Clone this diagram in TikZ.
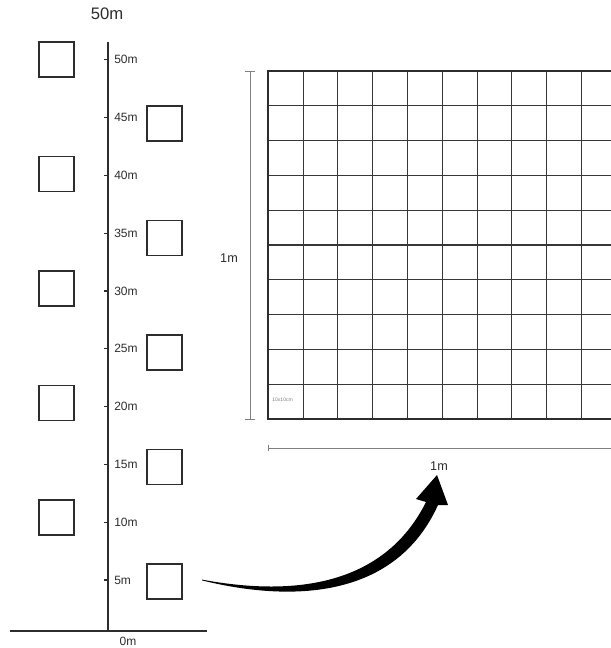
\documentclass[tikz,border=0pt]{standalone}
\usepackage{fontspec}
\setmainfont{Liberation Sans}
\usetikzlibrary{positioning}
\usetikzlibrary{calc}
\definecolor{inkgray}{RGB}{45,45,45}
\definecolor{gridgray}{RGB}{55,55,55}
\tikzset{
  plotsq/.style={draw=inkgray, line width=0.9pt, minimum size=26.25pt, inner sep=0pt},
  ticklbl/.style={anchor=west, inner sep=0.75pt, text=inkgray, font=\fontsize{9}{10}\selectfont},
  dimlbl/.style={inner sep=0.75pt, text=inkgray, font=\fontsize{9.5}{11}\selectfont},
  axisline/.style={draw=inkgray, line width=1pt},
  gridline/.style={draw=gridgray, line width=0.85pt},
  dimline/.style={draw=gray, line width=0.7pt}
}

\begin{document}
\begin{tikzpicture}[x=0.75pt,y=0.75pt,yscale=-1,xscale=1]
  \useasboundingbox (0,0) rectangle (610,648); %keep page at 610 x 648
  % Title
  \node (title) [inner sep=0.75pt, text=inkgray, font=\fontsize{12.5}{14}\selectfont] at (107,14) {50m};

  %Straight Lines: axis and ground
  \coordinate (axtop) at (108,42);
  \coordinate (axbot) at (108,631);
  \coordinate (gndL) at (10,631);
  \coordinate (gndR) at (207,631);
  \draw [axisline] (axtop) -- (axbot);
  \draw [axisline] (gndL) -- (gndR);
  \node (lbl0) [dimlbl, font=\fontsize{9}{10}\selectfont] at (128,641) {0m};

  % ticks and labels every 5m
  \foreach \i in {1,...,10}{
    \pgfmathsetmacro{\ty}{580-57.8*(\i-1)}
    \pgfmathtruncatemacro{\m}{5*\i}
    \coordinate (tk\m) at (108,\ty);
    \draw [axisline, line width=0.8pt] ($(tk\m)+(-4,0)$) -- (tk\m);
    \node (lbl\m) [ticklbl] at ($(tk\m)+(5,0)$) {\m m};
  }

  % sample plots, left of axis
  \foreach \j in {0,...,4}{
    \node (sqL\j) [plotsq] at (56.5,{59.5+114.5*\j}) {};
  }
  % sample plots, right of axis
  \foreach \j in {0,...,4}{
    \node (sqR\j) [plotsq] at (164.5,{123.5+114.5*\j}) {};
  }

  % 1m x 1m quadrat, 10 x 10 cells
  \coordinate (gNW) at (268.3,71);
  \foreach \k in {1,...,9}{
    \draw [gridline] ($(gNW)+({34.8*\k},0)$) -- ++(0,348);
    \draw [gridline] ($(gNW)+(0,{34.8*\k})$) -- ++(348,0);
  }
  % slightly heavier lines
  \draw [gridline, line width=1.3pt] ($(gNW)+({34.8*4},0)$) -- ++(0,348);
  \draw [gridline, line width=1.3pt] ($(gNW)+({34.8*9},0)$) -- ++(0,348);
  \draw [gridline, line width=1.3pt] ($(gNW)+(0,{34.8*5})$) -- ++(348,0);
  \draw [draw=inkgray, line width=1.7pt] (gNW) rectangle ++(348,348);
  \node (cell) [inner sep=0pt, text=gray, font=\fontsize{3.8}{4}\selectfont, anchor=west] at (272,400) {10x10cm};

  % dimension lines
  \coordinate (dvT) at (250,71);
  \coordinate (dvB) at (250,419);
  \draw [dimline] (dvT) -- (dvB);
  \draw [dimline] ($(dvT)+(-5,0)$) -- ($(dvT)+(5,0)$);
  \draw [dimline] ($(dvB)+(-5,0)$) -- ($(dvB)+(5,0)$);
  \node (dimV) [dimlbl] at (229,258) {1m};

  \coordinate (dhL) at (268,448);
  \coordinate (dhR) at (625,448);
  \draw [dimline] (dhL) -- (dhR);
  \draw [dimline] ($(dhL)+(0,-3)$) -- ($(dhL)+(0,3)$);
  \node (dimH) [dimlbl] at (439,466) {1m};

  % tapered arrow from 5m plot to quadrat
  \coordinate (arrS) at (202,580);
  \coordinate (arrT) at (437,475);
  \fill [black] ($(arrS)+(0,-0.4)$) .. controls (290,596) and (383,588) .. (426,502)
        -- (416,499) -- (arrT) -- (448,505) -- (438,505)
        .. controls (395,600) and (290,602) .. ($(arrS)+(0,0.4)$) -- cycle;
\end{tikzpicture}
\end{document}
